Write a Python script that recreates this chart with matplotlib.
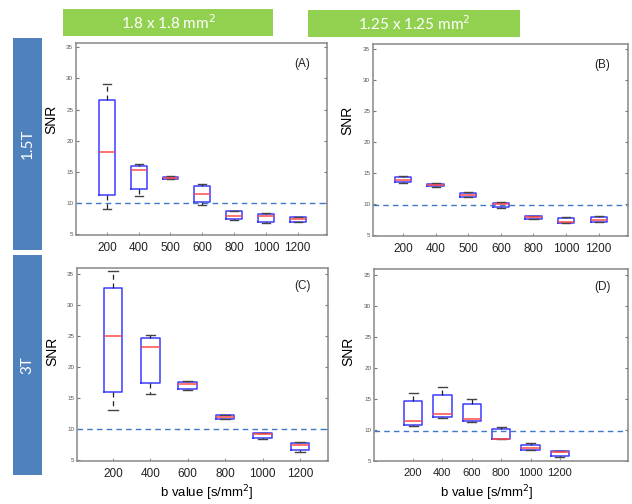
import matplotlib
matplotlib.use("Agg")
import matplotlib.pyplot as plt
from matplotlib.patches import Rectangle

# b values per panel
b_a = ["200", "400", "500", "600", "800", "1000", "1200"]
b_b = ["200", "400", "500", "600", "800", "1000", "1200"]
b_c = ["200", "400", "600", "800", "1000", "1200"]
b_d = ["200", "400", "600", "800", "1000", "1200"]

# box stats: whislo, q1, med, q3, whishi
snr_a = [
    [9.1, 11.3, 18.2, 26.5, 29.15],
    [11.2, 12.25, 15.35, 16.0, 16.3],
    [13.8, 13.85, 14.0, 14.2, 14.33],
    [9.7, 10.1, 11.5, 12.67, 13.1],
    [7.27, 7.43, 7.85, 8.65, 8.8],
    [6.8, 7.0, 7.96, 8.3, 8.35],
    [6.9, 7.0, 7.48, 7.7, 7.75],
]
snr_b = [
    [13.4, 13.5, 13.9, 14.35, 14.45],
    [12.8, 12.85, 13.1, 13.27, 13.35],
    [11.15, 11.2, 11.5, 11.77, 11.98],
    [9.3, 9.45, 9.94, 10.15, 10.26],
    [7.6, 7.63, 7.85, 8.0, 8.1],
    [6.94, 6.94, 7.15, 7.74, 7.95],
    [7.1, 7.1, 7.35, 7.9, 8.1],
]
snr_c = [
    [13.1, 16.0, 25.0, 32.8, 35.5],
    [15.6, 17.5, 23.3, 24.7, 25.15],
    [16.25, 16.45, 17.2, 17.6, 17.8],
    [11.6, 11.65, 11.9, 12.2, 12.3],
    [8.35, 8.6, 9.2, 9.3, 9.4],
    [6.3, 6.6, 7.4, 7.8, 7.9],
]
snr_d = [
    [10.65, 10.75, 11.4, 14.75, 15.9],
    [12.0, 12.05, 12.6, 15.7, 16.85],
    [11.35, 11.4, 11.8, 14.2, 15.05],
    [8.5, 8.5, 8.6, 10.1, 10.5],
    [6.7, 6.75, 7.15, 7.6, 7.85],
    [5.7, 5.73, 6.43, 6.6, 6.65],
]
threshold = [10.0, 9.77, 10.0, 9.9]
panel_tags = ["(A)", "(B)", "(C)", "(D)"]

plt.rcParams["font.family"] = ["Liberation Sans", "DejaVu Sans"]
fig = plt.figure(figsize=(6.32, 5.04), dpi=100)
W, H = 632.0, 504.0

def px_rect(x0, y0, x1, y1):
    return [x0 / W, 1 - y1 / H, (x1 - x0) / W, (y1 - y0) / H]

# header banners
green = "#92d050"
for (x0, y0, x1, y1), txt in [((63, 9, 273, 36), "1.8 x 1.8 mm$^2$"),
                              ((308, 10, 520, 37), "1.25 x 1.25 mm$^2$")]:
    r = px_rect(x0, y0, x1, y1)
    fig.patches.append(Rectangle((r[0], r[1]), r[2], r[3], transform=fig.transFigure,
                                 facecolor=green, edgecolor="none"))
    fig.text(r[0] + r[2] / 2, r[1] + r[3] / 2, txt, color="white", fontsize=11,
             family="Lato", ha="center", va="center")

blue = "#4f81bd"
for (x0, y0, x1, y1), txt in [((13, 38, 42, 250), "1.5T"), ((13, 255, 42, 475), "3T")]:
    r = px_rect(x0, y0, x1, y1)
    fig.patches.append(Rectangle((r[0], r[1]), r[2], r[3], transform=fig.transFigure,
                                 facecolor=blue, edgecolor="none"))
    fig.text(r[0] + r[2] / 2, r[1] + r[3] / 2, txt, color="white", fontsize=11,
             family="Lato", ha="center", va="center", rotation=90)

panels = [
    (b_a, snr_a, (76, 43, 327, 235), (0.03, 7.92), (4.87, 35.7), 0.5, 0.6, 8.5),
    (b_b, snr_b, (373, 44, 628, 236), (0.08, 7.9), (4.84, 35.8), 0.5, 0.6, 8.5),
    (b_c, snr_c, (77, 268, 328, 461), (0.04, 6.75), (4.84, 35.97), 0.5, 0.57, 8.5),
    (b_d, snr_d, (374, 269, 628, 461), (-0.33, 8.32), (5.0, 35.95), 0.62, 0.57, 8),
]

for i, (labels, stats, box, xl, yl, bw, snr_y, fs) in enumerate(panels):
    ax = fig.add_axes(px_rect(*box))
    data = [dict(whislo=s[0], q1=s[1], med=s[2], q3=s[3], whishi=s[4], label=l)
            for s, l in zip(stats, labels)]
    pos = list(range(1, len(labels) + 1))
    ax.bxp(data, positions=pos, widths=bw, showfliers=False, capwidths=bw * 0.5,
           boxprops=dict(color="#3c3cff", linewidth=1.1),
           medianprops=dict(color="#ff4a4a", linewidth=1.1),
           whiskerprops=dict(color="#222222", linewidth=0.9, linestyle=(0, (4, 3))),
           capprops=dict(color="#444444", linewidth=1.0))
    ax.axhline(threshold[i], color="#3f78c8", linewidth=1.0, linestyle=(0, (4, 3)))
    ax.set_xlim(*xl)
    ax.set_ylim(*yl)
    ax.set_yticks([5, 10, 15, 20, 25, 30, 35])
    ax.tick_params(axis="y", labelsize=4.5, labelcolor="#555555", direction="in",
                   length=2, right=True, color="#777777", pad=2)
    ax.tick_params(axis="x", labelsize=fs, labelcolor="#222222", direction="in",
                   length=2, color="#999999", pad=5)
    for sp in ax.spines.values():
        sp.set_color("#888888")
        sp.set_linewidth(1.1)
    ax.set_ylabel("SNR", fontsize=10)
    ax.yaxis.set_label_coords(-0.072, snr_y)
    ax.text(0.9, 0.89 if i < 2 else 0.905, panel_tags[i], transform=ax.transAxes,
            fontsize=8.5, ha="center", va="center", color="#222222")
    if i >= 2:
        mid = ((1 + len(labels)) / 2 - xl[0]) / (xl[1] - xl[0])
        ax.set_xlabel("b value [s/mm$^2$]", fontsize=9.5)
        ax.xaxis.set_label_coords(mid, -0.115)

fig.savefig("out.png", dpi=100)
